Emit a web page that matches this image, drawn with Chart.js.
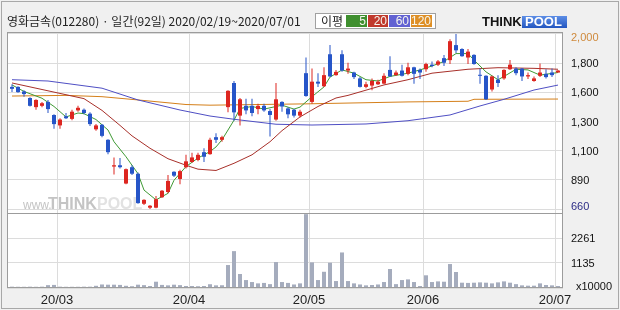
<!DOCTYPE html>
<html>
<head>
<meta charset="utf-8">
<script src="https://cdn.jsdelivr.net/npm/chart.js@4.4.1/dist/chart.umd.min.js"></script>
<style>
  html, body { margin: 0; padding: 0; background: #f0f0f0; }
  #wrap { width: 620px; height: 310px; }
</style>
</head>
<body>
<div id="wrap"><canvas id="chart" width="620" height="310"></canvas></div>
<script>
// 영화금속 daily candles, 2020/02/19 ~ 2020/07/01 (92 trading days)
const title = '영화금속(012280) · 일간(92일) 2020/02/19~2020/07/01';

const opens = [
  1595, 1595, 1560, 1510, 1440, 1450, 1480, 1380, 1300, 1370,
  1350, 1415, 1420, 1390, 1270, 1305, 1190, 985, 995, 855,
  980, 930, 700, 670, 670, 750, 790, 945, 890, 980,
  1020, 1035, 1095, 1080, 1210, 1190, 1440, 1625, 1375, 1450,
  1450, 1425, 1450, 1410, 1345, 1480, 1430, 1420, 1375, 1700,
  1480, 1635, 1600, 1845, 1685, 1845, 1720, 1705, 1660, 1595,
  1605, 1615, 1620, 1725, 1685, 1720, 1695, 1745, 1725, 1730,
  1765, 1765, 1815, 1800, 1915, 1885, 1820, 1840, 1685, 1680,
  1575, 1650, 1660, 1730, 1735, 1735, 1675, 1640, 1680, 1695,
  1705, 1705
];
const highs = [
  1615, 1600, 1570, 1515, 1500, 1480, 1495, 1385, 1355, 1395,
  1420, 1450, 1430, 1400, 1310, 1310, 1195, 1055, 1050, 970,
  995, 940, 735, 690, 760, 805, 920, 950, 960, 1075,
  1090, 1090, 1125, 1205, 1240, 1220, 1570, 1640, 1510, 1505,
  1505, 1465, 1465, 1425, 1625, 1485, 1440, 1425, 1420, 1820,
  1735, 1700, 1745, 1915, 1725, 1875, 1780, 1710, 1670, 1635,
  1660, 1650, 1700, 1830, 1720, 1765, 1780, 1750, 1735, 1780,
  1790, 1800, 1840, 1960, 2000, 1890, 1885, 1845, 1735, 1685,
  1680, 1685, 1730, 1800, 1745, 1740, 1705, 1675, 1775, 1730,
  1735, 1725
];
const lows = [
  1555, 1550, 1520, 1445, 1420, 1440, 1395, 1275, 1275, 1350,
  1340, 1405, 1385, 1295, 1260, 1210, 1080, 925, 970, 850,
  920, 700, 690, 660, 665, 745, 780, 905, 850, 970,
  1015, 1025, 1020, 1075, 1165, 1175, 1400, 1335, 1300, 1385,
  1370, 1385, 1405, 1215, 1335, 1405, 1355, 1360, 1360, 1520,
  1465, 1595, 1595, 1670, 1680, 1710, 1695, 1655, 1590, 1585,
  1570, 1610, 1615, 1675, 1680, 1675, 1685, 1620, 1655, 1710,
  1745, 1755, 1755, 1770, 1855, 1825, 1770, 1765, 1620, 1495,
  1560, 1595, 1650, 1725, 1685, 1640, 1655, 1635, 1670, 1660,
  1670, 1705
];
const closes = [
  1580, 1555, 1540, 1450, 1495, 1470, 1425, 1310, 1345, 1355,
  1405, 1435, 1395, 1310, 1300, 1220, 1095, 995, 980, 965,
  930, 705, 730, 685, 735, 800, 875, 915, 950, 1025,
  1055, 1075, 1060, 1190, 1190, 1210, 1565, 1400, 1500, 1415,
  1395, 1450, 1415, 1380, 1500, 1445, 1385, 1375, 1405, 1525,
  1635, 1620, 1685, 1675, 1710, 1720, 1735, 1670, 1595, 1615,
  1640, 1635, 1680, 1675, 1705, 1680, 1745, 1695, 1705, 1770,
  1755, 1790, 1780, 1945, 1875, 1830, 1865, 1770, 1680, 1500,
  1675, 1625, 1725, 1765, 1700, 1675, 1685, 1660, 1705, 1670,
  1685, 1720
];
// volume in units of 10,000 shares
const volumes = [
  60, 55, 55, 60, 55, 60, 130, 140, 60, 55,
  55, 55, 60, 60, 100, 160, 150, 150, 140, 100,
  80, 150, 130, 90, 285, 140, 120, 150, 130, 90,
  90, 80, 90, 170, 120, 125, 1040, 1670, 635, 360,
  270, 210, 230, 175, 1175, 270, 230, 160, 210, 3345,
  1160, 360, 735, 1145, 315, 1610, 315, 210, 160, 120,
  135, 160, 270, 860, 175, 360, 390, 270, 90, 575,
  270, 300, 285, 1085, 725, 240, 230, 240, 255, 240,
  210, 255, 300, 240, 175, 120, 105, 105, 210, 135,
  120, 90
];

// moving averages (day index, value)
const ma5Days = [0, 2, 5, 7, 9, 11, 12, 14, 16, 17, 19, 21, 22, 24, 26, 27, 29, 31, 33, 34, 35, 37, 38, 40, 42, 45, 47, 48, 50, 52, 53, 55, 57, 59, 61, 63, 66, 68, 70, 72, 74, 76, 77, 79, 81, 82, 84, 86, 88, 91];
const ma5Values = [1610, 1560, 1508, 1445, 1365, 1395, 1390, 1345, 1265, 1175, 1060, 930, 805, 730, 780, 880, 985, 1050, 1100, 1135, 1190, 1340, 1430, 1445, 1425, 1455, 1425, 1440, 1520, 1595, 1670, 1725, 1700, 1650, 1640, 1675, 1700, 1725, 1755, 1790, 1850, 1850, 1800, 1710, 1650, 1675, 1730, 1725, 1685, 1705];
const ma20Days = [0, 4, 9, 12, 15, 18, 20, 23, 26, 29, 31, 34, 37, 40, 43, 45, 48, 51, 54, 56, 59, 62, 66, 70, 76, 81, 87, 91];
const ma20Values = [1625, 1585, 1535, 1505, 1415, 1300, 1220, 1125, 1045, 995, 965, 955, 1010, 1075, 1175, 1260, 1365, 1445, 1510, 1530, 1570, 1610, 1650, 1700, 1730, 1742, 1737, 1730];
const ma60Days = [0, 6, 15, 21, 28, 33, 37, 44, 50, 59, 66, 73, 78, 82, 87, 91];
const ma60Values = [1650, 1640, 1585, 1495, 1418, 1372, 1347, 1309, 1303, 1311, 1336, 1380, 1449, 1500, 1571, 1609];
const ma120Days = [0, 9, 15, 21, 29, 33, 49, 66, 76, 77, 91];
const ma120Values = [1525, 1530, 1520, 1495, 1460, 1455, 1465, 1480, 1485, 1500, 1502];

const maNames = ['5', '20', '60', '120'];
const maLineColors = ['#3f9a34', '#a8302a', '#4f4fc4', '#d5801a'];
const maBoxColors = ['#3f8f2f', '#c0392c', '#6262d2', '#de8f26'];

const monthTicks = [7.5, 29.5, 49.5, 68.5, 90.5];
const monthLabels = ['20/03', '20/04', '20/05', '20/06', '20/07'];
const priceTicks = [660, 883, 1107, 1330, 1553, 1777, 2000];
const priceTickLabels = ['660', '890', '1,100', '1,300', '1,600', '1,800', '2,000'];
const volumeTicks = [0, 1135, 2261];
const volumeTickLabels = ['x10000', '1135', '2261'];

const upColor = '#dd2620';
const downColor = '#2655c8';
const gridColor = '#dcdcdc';
const frameColor = '#9c9c9c';

const days = closes.map((_, i) => i);
const candleColor = (ctx) => closes[ctx.dataIndex] >= opens[ctx.dataIndex] ? upColor : downColor;
const toPoints = (xs, ys) => xs.map((d, k) => ({ x: d, y: ys[k] }));

const maSets = [
    [ma5Days, ma5Values], [ma20Days, ma20Values], [ma60Days, ma60Values], [ma120Days, ma120Values]
].map(([xs, ys], k) => ({
    type: 'line',
    label: 'MA' + maNames[k],
    data: toPoints(xs, ys),
    borderColor: maLineColors[k],
    borderWidth: 1,
    pointRadius: 0,
    tension: 0,
    yAxisID: 'y',
    order: 3
}));

// backgrounds, frames, axis labels and header text
const decor = {
    id: 'decor',
    beforeDraw(chart) {
        const { ctx, chartArea: a } = chart;
        ctx.save();
        ctx.fillStyle = '#f0f0f0';
        ctx.fillRect(0, 0, chart.width, chart.height);
        ctx.fillStyle = '#ffffff';
        ctx.fillRect(a.left, a.top, a.right - a.left, a.bottom - a.top);
        ctx.restore();
    },
    beforeDatasetsDraw(chart) {
        const { ctx } = chart;
        const ys = chart.scales.y;
        const base = ys.bottom - 4;
        ctx.save();
        ctx.textBaseline = 'alphabetic';
        ctx.fillStyle = '#c4c4c4';
        ctx.font = '12px "Liberation Sans", Arial, sans-serif';
        ctx.fillText('www.', 23, base);
        ctx.font = 'bold 16px "Liberation Sans", Arial, sans-serif';
        ctx.fillText('THINK', 48, base);
        ctx.fillStyle = '#e2e2e2';
        ctx.fillText('POOL', 97, base);
        ctx.restore();
    },
    afterDraw(chart) {
        const { ctx, chartArea: a } = chart;
        const ys = chart.scales.y;
        const yv = chart.scales.yv;
        ctx.save();

        // panel frames
        ctx.strokeStyle = frameColor;
        ctx.lineWidth = 1;
        ctx.strokeRect(a.left + 0.5, ys.top + 0.5, a.right - a.left - 1, ys.bottom - ys.top);
        ctx.strokeRect(a.left + 0.5, yv.top + 0.5, a.right - a.left - 1, yv.bottom - yv.top - 1);

        // price labels
        ctx.font = '11px "Liberation Sans", Arial, sans-serif';
        ctx.textAlign = 'left';
        ctx.textBaseline = 'middle';
        priceTicks.forEach((v, k) => {
            let py = ys.getPixelForValue(v) + 1;
            py = Math.min(Math.max(py, ys.top + 6), ys.bottom - 6);
            ctx.fillStyle = k === 0 ? '#2c2c86' : (k === priceTicks.length - 1 ? '#cf8a3c' : '#111');
            ctx.fillText(priceTickLabels[k], 571, py);
        });
        // volume labels
        volumeTicks.forEach((v, k) => {
            let py = Math.min(yv.getPixelForValue(v) + 1, yv.bottom - 1);
            ctx.fillStyle = '#111';
            ctx.fillText(volumeTickLabels[k], k === 0 ? 576 : 571, py);
        });

        // header title
        ctx.fillStyle = '#222';
        ctx.font = '12px "Noto Sans CJK KR", sans-serif';
        ctx.fillText(title, 7, 21);

        // moving average legend
        ctx.fillStyle = '#fff';
        ctx.fillRect(315, 13, 121, 16);
        ctx.strokeStyle = '#a0a0a0';
        ctx.strokeRect(315.5, 13.5, 120, 15);
        ctx.fillStyle = '#222';
        ctx.fillText('이평', 321, 21);
        const boxX = [346, 368, 389, 411];
        const boxW = [21, 20, 21, 21];
        ctx.font = '12px "Liberation Sans", Arial, sans-serif';
        ctx.textAlign = 'right';
        maNames.forEach((n, k) => {
            ctx.fillStyle = maBoxColors[k];
            ctx.fillRect(boxX[k], 15, boxW[k], 12);
            ctx.fillStyle = '#f6f6ee';
            ctx.fillText(n, boxX[k] + boxW[k] - 1, 21.5);
        });

        // THINKPOOL logo
        ctx.textAlign = 'left';
        ctx.font = 'bold 13px "Liberation Sans", Arial, sans-serif';
        ctx.fillStyle = '#151515';
        ctx.fillText('THINK', 482, 22);
        const g = ctx.createLinearGradient(0, 16, 0, 28);
        g.addColorStop(0, '#5d8ee6');
        g.addColorStop(1, '#2356c0');
        ctx.fillStyle = g;
        ctx.fillRect(522, 16, 45, 12);
        ctx.fillStyle = '#fff';
        ctx.fillText('POOL', 525, 22.5);

        // outer border
        ctx.strokeStyle = '#a8a8a8';
        ctx.strokeRect(1.5, 1.5, chart.width - 3, chart.height - 3);
        ctx.restore();
    }
};

new Chart(document.getElementById('chart'), {
    type: 'bar',
    data: {
        datasets: [
            ...maSets,
            {
                label: 'wick',
                data: days.map(i => ({ x: i, y: [lows[i], highs[i]] })),
                backgroundColor: candleColor,
                barThickness: 1,
                grouped: false,
                inflateAmount: 0,
                yAxisID: 'y',
                order: 2
            },
            {
                label: 'body',
                data: days.map(i => ({ x: i, y: [opens[i], closes[i]] })),
                backgroundColor: candleColor,
                barThickness: 4,
                minBarLength: 1,
                grouped: false,
                inflateAmount: 0,
                yAxisID: 'y',
                order: 1
            },
            {
                label: 'volume',
                data: days.map(i => ({ x: i, y: volumes[i] })),
                backgroundColor: '#a5acbd',
                barThickness: 4,
                grouped: false,
                inflateAmount: 0,
                yAxisID: 'yv',
                order: 1
            }
        ]
    },
    options: {
        responsive: false,
        animation: false,
        layout: { padding: { left: 7, top: 32, right: 0, bottom: 0 } },
        plugins: { legend: { display: false }, tooltip: { enabled: false } },
        scales: {
            x: {
                type: 'linear',
                min: -5 / 6,
                max: 91 + 5 / 6,
                offset: false,
                grid: { color: gridColor, drawTicks: false, offset: false },
                border: { display: false },
                afterBuildTicks: (s) => { s.ticks = monthTicks.map(v => ({ value: v })); },
                ticks: {
                    callback: (v, i) => monthLabels[i],
                    autoSkip: false,
                    maxRotation: 0,
                    padding: 5,
                    color: '#222',
                    font: { family: 'Liberation Sans', size: 13 }
                },
                afterFit: (s) => { s.height = 22; }
            },
            y: {
                type: 'linear',
                position: 'right',
                stack: 'panes',
                stackWeight: 181,
                min: 629.4,
                max: 2015.3,
                grid: { color: gridColor, drawTicks: false },
                border: { display: false },
                ticks: { display: false },
                afterBuildTicks: (s) => { s.ticks = priceTicks.map(v => ({ value: v })); },
                afterFit: (s) => { s.width = 57; }
            },
            yv: {
                type: 'linear',
                position: 'right',
                stack: 'panes',
                stackWeight: 75,
                min: 0,
                max: 3397,
                grid: { color: gridColor, drawTicks: false },
                border: { display: false },
                ticks: { display: false },
                afterBuildTicks: (s) => { s.ticks = volumeTicks.map(v => ({ value: v })); },
                afterFit: (s) => { s.width = 57; }
            }
        }
    },
    plugins: [decor]
});
</script>
</body>
</html>
